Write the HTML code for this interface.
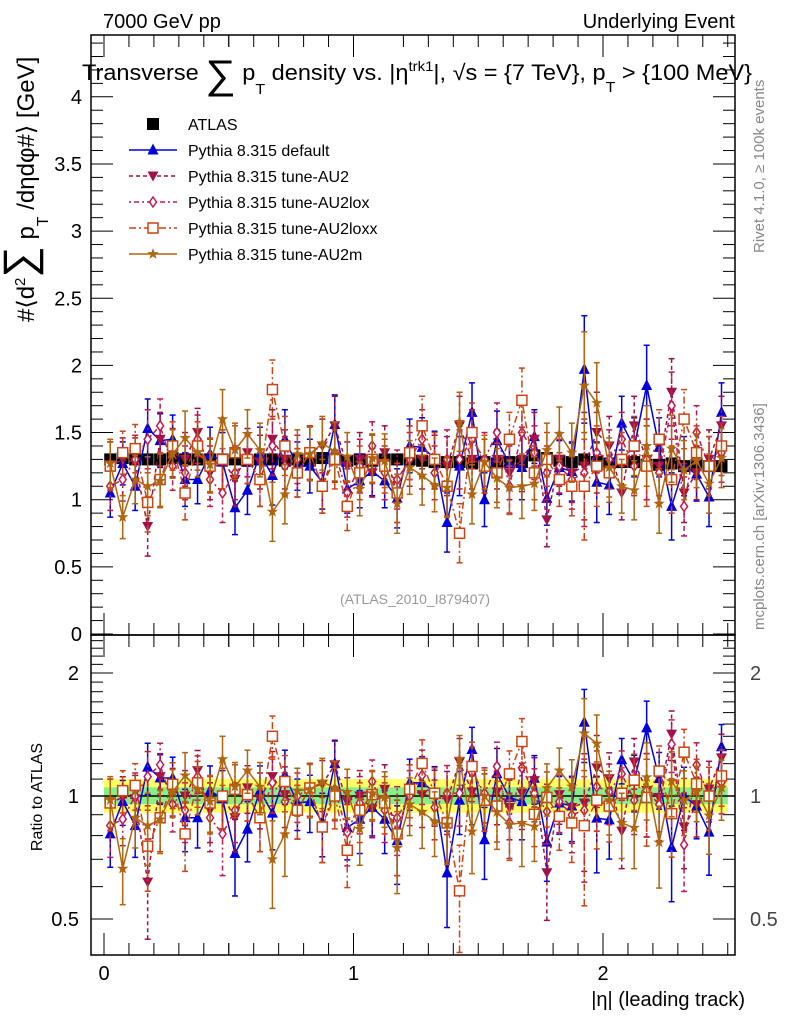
<!DOCTYPE html>
<html><head><meta charset="utf-8"><style>
html,body{margin:0;padding:0;background:#fff;}
svg{display:block;font-family:"Liberation Sans",sans-serif;}
</style></head><body>
<svg id="chart" width="786" height="1024" viewBox="0 0 786 1024"></svg>
<script>
const etaCenters = [0.025,0.075,0.125,0.175,0.225,0.275,0.325,0.375,0.425,0.475,0.525,0.575,0.625,0.675,0.725,0.775,0.825,0.875,0.925,0.975,1.025,1.075,1.125,1.175,1.225,1.275,1.325,1.375,1.425,1.475,1.525,1.575,1.625,1.675,1.725,1.775,1.825,1.875,1.925,1.975,2.025,2.075,2.125,2.175,2.225,2.275,2.325,2.375,2.425,2.475];
const atlasVals = [1.30,1.31,1.30,1.30,1.30,1.31,1.30,1.30,1.30,1.30,1.30,1.29,1.30,1.30,1.29,1.30,1.29,1.31,1.30,1.29,1.30,1.29,1.30,1.30,1.30,1.29,1.28,1.28,1.28,1.27,1.28,1.27,1.28,1.28,1.33,1.31,1.29,1.28,1.30,1.28,1.27,1.28,1.28,1.26,1.26,1.27,1.25,1.26,1.25,1.25];
const atlasErr = [0.03,0.03,0.03,0.03,0.03,0.03,0.03,0.03,0.03,0.03,0.03,0.03,0.03,0.03,0.03,0.03,0.03,0.03,0.03,0.03,0.03,0.03,0.03,0.03,0.03,0.03,0.03,0.03,0.03,0.03,0.03,0.03,0.03,0.03,0.03,0.03,0.03,0.03,0.03,0.03,0.03,0.03,0.03,0.03,0.03,0.03,0.03,0.03,0.03,0.03];
const defaultVals = [1.05,1.27,1.10,1.53,1.44,1.45,1.15,1.15,1.34,1.28,0.94,1.07,1.34,1.18,1.45,1.25,1.25,1.13,1.56,1.08,1.14,1.21,1.14,1.01,1.40,1.39,1.31,0.83,1.25,1.65,1.00,1.44,1.27,1.24,1.47,1.01,1.24,1.21,1.97,1.13,1.11,1.57,1.39,1.85,1.39,0.95,1.25,1.19,1.02,1.65];
const au2Vals = [1.25,1.30,1.28,0.80,1.45,1.35,1.30,1.50,1.20,1.30,1.15,1.35,1.28,1.45,1.30,1.20,1.35,1.40,1.55,1.25,1.30,1.20,1.35,1.05,1.35,1.30,1.28,1.25,1.55,1.30,1.25,1.30,1.20,1.30,1.45,0.85,1.30,1.20,1.25,1.50,1.40,1.05,1.55,1.30,1.25,1.80,1.05,1.20,1.30,1.55];
const au2loxVals = [1.10,1.15,1.30,1.45,1.55,1.25,1.20,1.45,1.15,1.05,1.20,1.30,1.15,1.40,1.25,1.30,1.35,1.10,1.35,1.05,1.25,1.40,1.20,1.15,1.30,1.45,1.20,1.30,1.30,1.45,1.30,1.50,1.10,1.50,1.35,1.20,1.25,1.15,1.20,1.35,1.30,1.45,1.25,1.30,1.20,1.70,0.95,1.50,1.25,1.35];
const au2loxxVals = [1.25,1.35,1.38,0.98,1.15,1.40,1.05,1.40,1.25,1.30,1.35,1.30,1.15,1.82,1.40,1.20,1.35,1.10,1.30,0.95,1.20,1.30,1.25,1.05,1.35,1.55,1.30,1.10,0.75,1.50,1.25,1.20,1.45,1.74,1.20,1.30,1.15,1.10,1.10,1.25,1.20,1.30,1.40,1.25,1.45,1.15,1.60,1.35,1.25,1.40];
const au2mVals = [1.27,0.87,1.15,1.10,1.14,1.34,1.46,1.35,1.26,1.60,1.37,1.49,1.37,0.91,1.04,1.34,1.34,1.42,1.36,1.32,1.08,1.31,1.29,0.97,1.24,1.18,1.11,1.09,1.58,1.04,1.28,1.16,1.09,1.10,1.12,1.37,1.49,1.35,1.85,1.72,1.24,1.10,1.07,1.40,0.97,1.38,1.22,1.29,1.12,1.31];
const mcErr = [0.18,0.16,0.18,0.22,0.2,0.18,0.2,0.18,0.2,0.22,0.2,0.18,0.2,0.22,0.22,0.18,0.2,0.2,0.22,0.18,0.2,0.18,0.2,0.22,0.2,0.22,0.2,0.22,0.22,0.22,0.2,0.22,0.2,0.24,0.2,0.2,0.2,0.22,0.4,0.3,0.22,0.2,0.22,0.3,0.22,0.25,0.22,0.2,0.22,0.22];
const mainTicks = [0,0.5,1,1.5,2,2.5,3,3.5,4];
const mainTickLabels = ["0","0.5","1","1.5","2","2.5","3","3.5","4"];
const ratioTicks = [0.5,1,2];
const ratioTickLabels = ["0.5","1","2"];
const xTicks = [0,1,2];
const xTickLabels = ["0","1","2"];

const NS="http://www.w3.org/2000/svg";
const svg=document.getElementById('chart');
function el(tag,attrs,parent){const e=document.createElementNS(NS,tag);for(const k in attrs)e.setAttribute(k,attrs[k]);(parent||svg).appendChild(e);return e;}
const L=91,R=735,MT=35,MB=635,RB=955;
const xS=v=>104+249.5*v;
const yM=v=>634-134.3*v;
const yR=v=>796-408.6*Math.log10(v);

const bandY=el('rect',{x:xS(0),y:yR(1.1),width:xS(2.5)-xS(0),height:yR(0.91)-yR(1.1),fill:'#ffff66'});


const bandG=el('rect',{x:xS(0),y:yR(1.05),width:xS(2.5)-xS(0),height:yR(0.955)-yR(1.05),fill:'#88ee88'});


el('line',{x1:L,x2:R,y1:yR(1),y2:yR(1),stroke:'#000','stroke-width':1.5});

const f1=el('rect',{x:L,y:MT,width:R-L,height:MB-MT,fill:'none',stroke:'#000','stroke-width':1.5});


const f2=el('rect',{x:L,y:MB,width:R-L,height:RB-MB,fill:'none',stroke:'#000','stroke-width':1.5});



for(let v=0;v<=4.45;v+=0.1){const maj=Math.abs(v*2-Math.round(v*2))<1e-6;const y=yM(v);const len=maj?22:12;
 el('line',{x1:L,x2:L+len,y1:y,y2:y,stroke:'#000','stroke-width':1});
 el('line',{x1:R,x2:R-len,y1:y,y2:y,stroke:'#000','stroke-width':1});}
mainTicks.forEach((v,i)=>{const t=el('text',{x:82,y:yM(v)+7,'text-anchor':'end','font-size':20});t.textContent=mainTickLabels[i];
 
 });
for(let v=0.5;v<=2.45;v+=0.1){const y=yR(v);const maj=ratioTicks.some(r=>Math.abs(r-v)<1e-6);const len=maj?22:12;
 el('line',{x1:L,x2:L+len,y1:y,y2:y,stroke:'#000','stroke-width':1});
 el('line',{x1:R,x2:R-len,y1:y,y2:y,stroke:'#000','stroke-width':1});}
ratioTicks.forEach((v,i)=>{const t=el('text',{x:79,y:yR(v)+7,'text-anchor':'end','font-size':20});t.textContent=ratioTickLabels[i];
 
 
 const t2=el('text',{x:750,y:yR(v)+7,'text-anchor':'start','font-size':20,fill:'#444'});t2.textContent=ratioTickLabels[i];
 
 });
for(let v=-0.05;v<=2.55;v+=0.1){const vv=Math.round(v*10)/10;const x=xS(vv);if(x<L||x>R)continue;const maj=Math.abs(vv-Math.round(vv))<1e-6;const len=maj?22:12;
 el('line',{x1:x,x2:x,y1:RB,y2:RB-len,stroke:'#000','stroke-width':1});
 el('line',{x1:x,x2:x,y1:MB,y2:MB+len,stroke:'#000','stroke-width':1});
 el('line',{x1:x,x2:x,y1:MB,y2:MB-len,stroke:'#000','stroke-width':1});
 el('line',{x1:x,x2:x,y1:MT,y2:MT+len,stroke:'#000','stroke-width':1});}
xTicks.forEach((v,i)=>{const t=el('text',{x:xS(v),y:980,'text-anchor':'middle','font-size':20});t.textContent=xTickLabels[i];
 
 });

function marker(kind,x,y,color,g){
 const s=5.5;
 if(kind==='sq')el('rect',{x:x-6,y:y-6,width:12,height:12,fill:'#000'},g);
 else if(kind==='tu')el('polygon',{points:`${x},${y-s-1} ${x-s},${y+s-1} ${x+s},${y+s-1}`,fill:color},g);
 else if(kind==='td')el('polygon',{points:`${x},${y+s} ${x-s},${y-s+1} ${x+s},${y-s+1}`,fill:color},g);
 else if(kind==='di')el('polygon',{points:`${x},${y-5} ${x-3.5},${y} ${x},${y+5} ${x+3.5},${y}`,fill:'#fff',stroke:color,'stroke-width':1.5},g);
 else if(kind==='os')el('rect',{x:x-5,y:y-5,width:10,height:10,fill:'#fff',stroke:color,'stroke-width':1.5},g);
 else if(kind==='st'){let p=[];for(let k=0;k<10;k++){const r=k%2?2.4:6;const a=-Math.PI/2+k*Math.PI/5;p.push((x+r*Math.cos(a)).toFixed(1)+','+(y+r*Math.sin(a)).toFixed(1));}
  el('polygon',{points:p.join(' '),fill:color},g);}
}
function series(name,vals,errs,color,dash,kind,ratioMode){
 const g=el('g',{});
 
 
 const yf=ratioMode?yR:yM;
 const val=i=>ratioMode?vals[i]/atlasVals[i]:vals[i];
 const er=i=>ratioMode?errs[i]/atlasVals[i]:errs[i];
 if(kind!=='sq'){const pts=etaCenters.map((x,i)=>xS(x)+','+yf(val(i))).join(' ');
  el('polyline',{points:pts,fill:'none',stroke:color,'stroke-width':1.5,'stroke-dasharray':dash},g);}
 etaCenters.forEach((x,i)=>{const X=xS(x);const lo=Math.max(val(i)-er(i),0.3),hi=val(i)+er(i);
  el('line',{x1:X,x2:X,y1:yf(lo),y2:yf(hi),stroke:color,'stroke-width':1.5,'stroke-dasharray':dash},g);
  if(kind!=='sq'){el('line',{x1:X-3,x2:X+3,y1:yf(lo),y2:yf(lo),stroke:color,'stroke-width':1.5},g);
   el('line',{x1:X-3,x2:X+3,y1:yf(hi),y2:yf(hi),stroke:color,'stroke-width':1.5},g);}
  marker(kind,X,yf(val(i)),color,g);});
}
const defs=[['default',defaultVals,'#0000dd','','tu'],['au2',au2Vals,'#a0104a','4,3','td'],['au2lox',au2loxVals,'#c01850','2,3,5,3','di'],['au2loxx',au2loxxVals,'#cc4411','7,3,2,3','os'],['au2m',au2mVals,'#b0650f','','st']];
series('atlas-data',atlasVals,atlasErr,'#000','','sq',false);
defs.forEach(d=>series(d[0]+'-series',d[1],mcErr,d[2],d[3],d[4],false));
defs.forEach(d=>series(d[0]+'-ratio',d[1],mcErr,d[2],d[3],d[4],true));

const legNames=['ATLAS','Pythia 8.315 default','Pythia 8.315 tune-AU2','Pythia 8.315 tune-AU2lox','Pythia 8.315 tune-AU2loxx','Pythia 8.315 tune-AU2m'];
legNames.forEach((n,i)=>{const y=124+26*i;const g=el('g',{});
 
 
 if(i===0)marker('sq',153,y,'#000',g);
 else{const d=defs[i-1];el('line',{x1:129,x2:177,y1:y,y2:y,stroke:d[2],'stroke-width':1.5,'stroke-dasharray':d[3]},g);marker(d[4],153,y,d[2],g);}
 const t=el('text',{x:188,y:y+6,'font-size':16},g);t.textContent=n;});

function txt(name,attrs,html){const t=el('text',attrs);t.innerHTML=html;
 
 return t;}
txt('header-left',{x:103,y:28,'font-size':20},'7000 GeV pp');
txt('header-right',{x:735,y:28,'font-size':20,'text-anchor':'end'},'Underlying Event');
txt('plot-title',{x:82,y:80,'font-size':22,textLength:670,lengthAdjust:'spacingAndGlyphs'},'Transverse <tspan font-size="40" dy="8">∑</tspan><tspan dy="-8"> p</tspan><tspan font-size="15" dy="14">T</tspan><tspan dy="-14"> density vs. |η</tspan><tspan font-size="14" dy="-9">trk1</tspan><tspan dy="9">|, √s = {7 TeV}, p</tspan><tspan font-size="15" dy="12">T</tspan><tspan dy="-12"> &gt; {100 MeV}</tspan>');
txt('analysis-id',{x:415,y:604,'font-size':14,fill:'#999','text-anchor':'middle'},'(ATLAS_2010_I879407)');
txt('y-axis-title',{x:0,y:0,'font-size':24,transform:'translate(34,322) rotate(-90)','text-anchor':'start'},'#⟨d<tspan font-size="15" dy="-9">2</tspan><tspan dy="9" font-size="44">∑</tspan> p<tspan font-size="16" dy="14">T</tspan><tspan dy="-14"> /dηdφ#⟩ [GeV]</tspan>');
txt('ratio-y-title',{x:0,y:0,'font-size':16,transform:'translate(42,797) rotate(-90)','text-anchor':'middle'},'Ratio to ATLAS');
txt('x-axis-title',{x:745,y:1006,'font-size':20,'text-anchor':'end'},'|η| (leading track)');
txt('rivet-label',{x:0,y:0,'font-size':15,fill:'#888',transform:'translate(764,253) rotate(-90)'},'Rivet 4.1.0, ≥ 100k events');
txt('mcplots-label',{x:0,y:0,'font-size':15,fill:'#888',transform:'translate(764,630) rotate(-90)'},'mcplots.cern.ch [arXiv:1306.3436]');
</script>
</body></html>
